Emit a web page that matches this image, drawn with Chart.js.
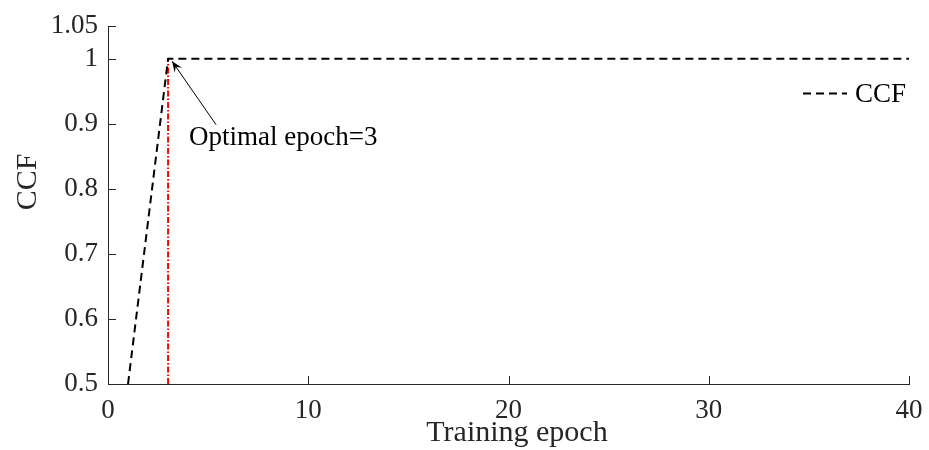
<!DOCTYPE html>
<html>
<head>
<meta charset="utf-8">
<script src="https://cdn.jsdelivr.net/npm/chart.js@4.4.1/dist/chart.umd.min.js"></script>
<style>
  html, body { margin: 0; padding: 0; background: #fff; }
  #box { width: 929px; height: 450px; position: relative; }
</style>
</head>
<body>
<div id="box"><canvas id="grafico"></canvas></div>
<script>
// ---------------------------------------------------------
// Dados
// ---------------------------------------------------------
const epocas = [1, 2, 3, 4, 5, 6, 7, 8, 9, 10, 11, 12, 13, 14, 15, 16, 17, 18, 19, 20,
  21, 22, 23, 24, 25, 26, 27, 28, 29, 30, 31, 32, 33, 34, 35, 36, 37, 38, 39, 40];
const ccf = [0.5, 0.75, 1, 1, 1, 1, 1, 1, 1, 1, 1, 1, 1, 1, 1, 1, 1, 1, 1, 1,
  1, 1, 1, 1, 1, 1, 1, 1, 1, 1, 1, 1, 1, 1, 1, 1, 1, 1, 1, 1];
const epocaOtima = 3;
const linhaOtima = [0.5, 1];
const ticksX = [0, 10, 20, 30, 40];
const ticksY = [0.5, 0.6, 0.7, 0.8, 0.9, 1, 1.05];

const FONTE = '"Liberation Serif", "Times New Roman", serif';
const COR_TEXTO = "#262626";

// ---------------------------------------------------------
// Plugin: marcas internas, legenda, títulos e seta
// ---------------------------------------------------------
const extras = {
  id: "extras",
  afterDraw(chart) {
    const ctx = chart.ctx;
    const xs = chart.scales.x, ys = chart.scales.y;
    const area = chart.chartArea;
    ctx.save();

    // marcas de escala para dentro
    ctx.strokeStyle = COR_TEXTO;
    ctx.lineWidth = 1;
    ticksX.forEach((v) => {
      const px = Math.round(xs.getPixelForValue(v)) + 0.5;
      ctx.beginPath();
      ctx.moveTo(px, area.bottom);
      ctx.lineTo(px, area.bottom - 8);
      ctx.stroke();
    });
    ticksY.forEach((v) => {
      const py = Math.round(ys.getPixelForValue(v)) + 0.5;
      ctx.beginPath();
      ctx.moveTo(area.left, py);
      ctx.lineTo(area.left + 8, py);
      ctx.stroke();
    });

    // títulos dos eixos
    ctx.fillStyle = COR_TEXTO;
    ctx.font = "30px " + FONTE;
    ctx.textAlign = "center";
    ctx.textBaseline = "middle";
    ctx.fillText("Training epoch", 517, 433);
    ctx.save();
    ctx.translate(28, 182);
    ctx.rotate(-Math.PI / 2);
    ctx.fillText("CCF", 0, 0);
    ctx.restore();

    // legenda
    const ds = chart.data.datasets[0];
    ctx.strokeStyle = ds.borderColor;
    ctx.lineWidth = ds.borderWidth;
    ctx.setLineDash(ds.borderDash);
    ctx.beginPath();
    ctx.moveTo(803, 93.5);
    ctx.lineTo(847, 93.5);
    ctx.stroke();
    ctx.setLineDash([]);
    ctx.font = "27px " + FONTE;
    ctx.textAlign = "left";
    ctx.fillStyle = "#000";
    ctx.fillText(ds.label, 855, 95);

    // anotação com seta
    const px = xs.getPixelForValue(epocaOtima);
    const py = ys.getPixelForValue(1);
    const ponta = { x: px + 4, y: py + 2.5 };
    const cauda = { x: px + 48, y: py + 66 };
    ctx.strokeStyle = "#000";
    ctx.lineWidth = 1;
    ctx.beginPath();
    ctx.moveTo(cauda.x, cauda.y);
    ctx.lineTo(ponta.x, ponta.y);
    ctx.stroke();
    const ang = Math.atan2(ponta.y - cauda.y, ponta.x - cauda.x);
    const L = 11, W = 4.5;
    const bx = ponta.x - L * Math.cos(ang), by = ponta.y - L * Math.sin(ang);
    const nx = -Math.sin(ang), ny = Math.cos(ang);
    ctx.fillStyle = "#000";
    ctx.beginPath();
    ctx.moveTo(ponta.x, ponta.y);
    ctx.lineTo(bx + nx * W, by + ny * W);
    ctx.lineTo(ponta.x - 0.6 * L * Math.cos(ang), ponta.y - 0.6 * L * Math.sin(ang));
    ctx.lineTo(bx - nx * W, by - ny * W);
    ctx.closePath();
    ctx.fill();

    ctx.font = "27px " + FONTE;
    ctx.textAlign = "left";
    ctx.textBaseline = "alphabetic";
    ctx.fillText("Optimal epoch=" + epocaOtima, 189, 145);

    ctx.restore();
  },
};

// ---------------------------------------------------------
// Gráfico
// ---------------------------------------------------------
new Chart(document.getElementById("grafico"), {
  type: "line",
  data: {
    datasets: [
      {
        label: "CCF",
        data: epocas.map((e, i) => ({ x: e, y: ccf[i] })),
        borderColor: "#000000",
        borderWidth: 2,
        borderDash: [8, 5],
        pointRadius: 0,
        tension: 0,
        fill: false,
      },
      {
        label: "Optimal epoch",
        data: linhaOtima.map((v) => ({ x: epocaOtima, y: v })),
        borderColor: "#ff0000",
        borderWidth: 2,
        borderDash: [6, 2, 1.5, 2],
        pointRadius: 0,
        fill: false,
      },
    ],
  },
  options: {
    responsive: true,
    maintainAspectRatio: false,
    animation: false,
    layout: { padding: { left: 0, right: 20, top: 23, bottom: 0 } },
    plugins: { legend: { display: false }, tooltip: { enabled: false } },
    scales: {
      x: {
        type: "linear",
        min: 0,
        max: 40,
        grid: { display: false, drawTicks: false },
        border: { display: true, color: COR_TEXTO, width: 1 },
        afterBuildTicks: (s) => { s.ticks = ticksX.map((v) => ({ value: v })); },
        afterFit: (s) => {
          s.height = 66;
          s.paddingLeft = 0;
          s.paddingRight = 0;
        },
        ticks: {
          color: COR_TEXTO,
          font: { family: FONTE, size: 27 },
          padding: 11,
          maxRotation: 0,
        },
      },
      y: {
        type: "linear",
        min: 0.5,
        max: 1.05,
        grid: { display: false, drawTicks: false },
        border: { display: true, color: COR_TEXTO, width: 1 },
        afterBuildTicks: (s) => { s.ticks = ticksY.map((v) => ({ value: v })); },
        afterFit: (s) => { s.width = 108; },
        ticks: {
          color: COR_TEXTO,
          font: { family: FONTE, size: 27 },
          padding: 10,
          callback: (v) => String(v),
        },
      },
    },
  },
  plugins: [extras],
});
</script>
</body>
</html>
